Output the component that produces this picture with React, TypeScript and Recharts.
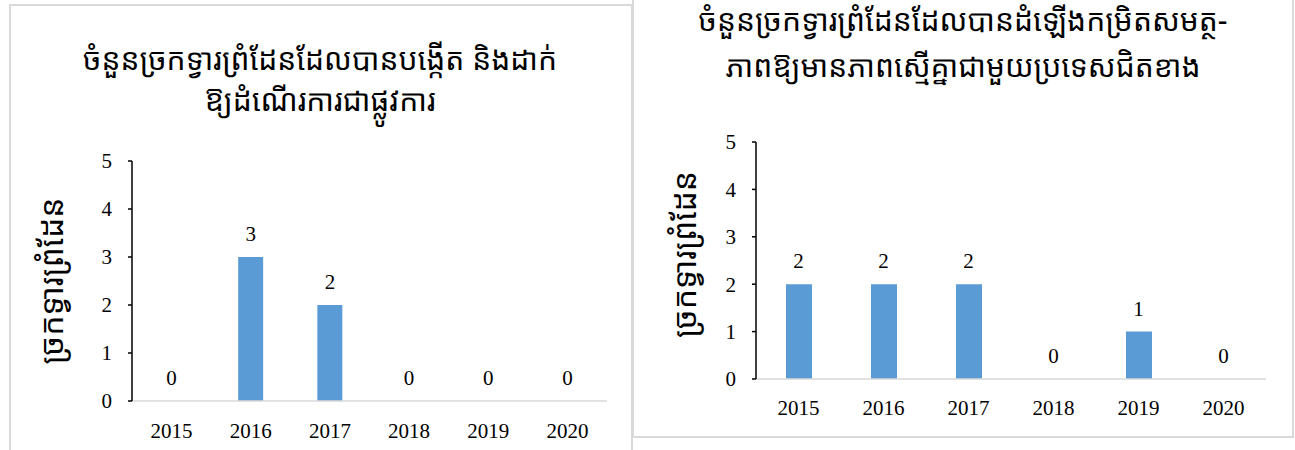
import React from 'react';
import { ComposedChart, Bar, Line, XAxis, YAxis, LabelList } from 'recharts';

const years = ['2015', '2016', '2017', '2018', '2019', '2020'];
const openedCounts = [0, 3, 2, 0, 0, 0];
const upgradedCounts = [2, 2, 2, 0, 1, 0];
const yTicks = [0, 1, 2, 3, 4, 5];

const leftTitle = ['ចំនួនច្រកទ្វារព្រំដែនដែលបានបង្កើត និងដាក់', 'ឱ្យដំណើរការជាផ្លូវការ'];
const rightTitle = ['ចំនួនច្រកទ្វារព្រំដែនដែលបានដំឡើងកម្រិតសមត្ថ-', 'ភាពឱ្យមានភាពស្មើគ្នាជាមួយប្រទេសជិតខាង'];
const yLabel = 'ច្រកទ្វារព្រំដែន';

const khmerFont = "'Noto Sans Khmer', 'Noto Serif Khmer', 'Khmer OS', 'Khmer OS System', 'Noto Sans', sans-serif";
const numFont = "'Liberation Serif', 'Times New Roman', serif";
const numSize = 21;
const barColor = '#5b9bd5';
const borderColor = '#d9d9d9';

const leftData = years.map((year, i) => ({ year, value: openedCounts[i] }));
const rightData = years.map((year, i) => ({ year, value: upgradedCounts[i] }));

const numStyle = { fontFamily: numFont, fontSize: numSize };

function AxisTitle(props: any) {
    const { viewBox, labelX, shiftY } = props;
    const cx = viewBox.x + labelX;
    const cy = viewBox.y + viewBox.height / 2 + shiftY;
    return (
        <text
            x={cx}
            y={cy}
            transform={`rotate(-90, ${cx}, ${cy})`}
            textAnchor="middle"
            dominantBaseline="central"
            fontFamily={khmerFont}
            fontSize={32}
            fill="#000"
        >
            {yLabel}
        </text>
    );
}

interface PanelChartProps {
    data: { year: string; value: number }[];
    width: number;
    axisWidth: number;
    top: number;
    right: number;
    bottom: number;
    barSize: number;
    labelX: number;
    labelShift: number;
    tickGap: number;
}

function PanelChart({ data, width, axisWidth, top, right, bottom, barSize, labelX, labelShift, tickGap }: PanelChartProps) {
    return (
        <ComposedChart width={width} height={450} data={data} margin={{ top, right, bottom, left: 0 }}>
            <XAxis
                dataKey="year"
                height={30}
                axisLine={{ stroke: borderColor, strokeWidth: 1.5 }}
                tickLine={false}
                tickMargin={tickGap}
                fontSize={numSize}
                tick={{ fill: '#000', fontFamily: numFont, fontSize: numSize, style: numStyle }}
            />
            <YAxis
                width={axisWidth}
                domain={[0, 5]}
                ticks={yTicks}
                interval={0}
                axisLine={{ stroke: '#000', strokeWidth: 1.5 }}
                tickLine={{ stroke: '#000', strokeWidth: 1.5 }}
                tickSize={4}
                tickMargin={16}
                fontSize={numSize}
                tick={{ fill: '#000', fontFamily: numFont, fontSize: numSize, style: numStyle }}
                label={<AxisTitle labelX={labelX} shiftY={labelShift} />}
            />
            <Bar dataKey="value" fill={barColor} barSize={barSize} isAnimationActive={false} />
            <Line dataKey="value" stroke="none" dot={false} activeDot={false} isAnimationActive={false}>
                <LabelList
                    dataKey="value"
                    position="top"
                    offset={16}
                    fill="#000"
                    fontFamily={numFont}
                    fontSize={numSize}
                    style={numStyle}
                />
            </Line>
        </ComposedChart>
    );
}

function Title({ lines, left, top, width, lineGap }: { lines: string[]; left: number; top: number; width: number; lineGap: number }) {
    return (
        <div
            style={{
                position: 'absolute',
                left,
                top,
                width,
                textAlign: 'center',
                fontFamily: khmerFont,
                fontSize: 30,
                lineHeight: `${lineGap}px`,
                color: '#000',
                whiteSpace: 'nowrap',
            }}
        >
            {lines.map((l) => (
                <div key={l}>{l}</div>
            ))}
        </div>
    );
}

export default function App() {
    return (
        <div style={{ position: 'absolute', left: 0, top: 0, width: 1295, height: 450, overflow: 'hidden', background: '#fff' }}>
            <div
                style={{
                    position: 'absolute',
                    left: 9,
                    top: 4,
                    width: 620,
                    height: 480,
                    border: `2px solid ${borderColor}`,
                }}
            />
            <div
                style={{
                    position: 'absolute',
                    left: 632,
                    top: -20,
                    width: 658,
                    height: 454,
                    border: `2px solid ${borderColor}`,
                }}
            />
            <Title lines={leftTitle} left={10} top={38} width={620} lineGap={41} />
            <Title lines={rightTitle} left={633} top={-3} width={660} lineGap={46} />
            <div style={{ position: 'absolute', left: 0, top: 0 }}>
                <PanelChart data={leftData} width={640} axisWidth={132} top={161} right={33} bottom={19} barSize={25} labelX={50} labelShift={0} tickGap={16} />
            </div>
            <div style={{ position: 'absolute', left: 640, top: 0 }}>
                <PanelChart data={rightData} width={655} axisWidth={116} top={142} right={29} bottom={41} barSize={26} labelX={43} labelShift={-6} tickGap={15} />
            </div>
        </div>
    );
}
